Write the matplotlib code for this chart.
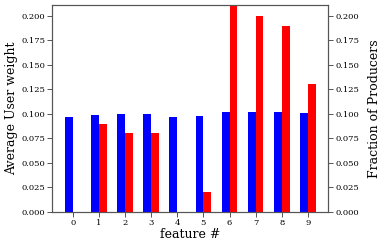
import numpy as np
import matplotlib
matplotlib.use("Agg")
import matplotlib.pyplot as plt

features = np.arange(10)
user_weight = [0.097, 0.099, 0.100, 0.100, 0.097, 0.098, 0.102, 0.102, 0.102, 0.101]
producer_frac = [0.0, 0.09, 0.08, 0.08, 0.0, 0.02, 0.23, 0.20, 0.19, 0.13]
yticks = [0.0, 0.025, 0.05, 0.075, 0.1, 0.125, 0.15, 0.175, 0.2]

plt.rcParams["font.family"] = "DejaVu Serif"
width = 0.3

fig, ax = plt.subplots(figsize=(3.83, 2.47), dpi=100)
fig.subplots_adjust(left=0.137, right=0.857, top=0.980, bottom=0.142)
ax2 = ax.twinx()

ax.bar(features - width / 2, user_weight, width, color="blue")
ax2.bar(features + width / 2, producer_frac, width, color="red")

for a in (ax, ax2):
    a.set_ylim(0, 0.211)
    a.set_yticks(yticks)
    a.set_yticklabels([f"{t:.3f}" for t in yticks])
    a.tick_params(labelsize=6, length=3.5, width=0.7, pad=1.5, color="#555555")
    for s in a.spines.values():
        s.set_color("#555555")
        s.set_linewidth(0.8)

ax.set_xticks(features)
ax.set_xlabel("feature #", fontsize=9, labelpad=1)
ax.set_ylabel("Average User weight", fontsize=9, labelpad=2.5)
ax2.set_ylabel("Fraction of Producers", fontsize=9, labelpad=6)

fig.savefig("out.png", dpi=100)
